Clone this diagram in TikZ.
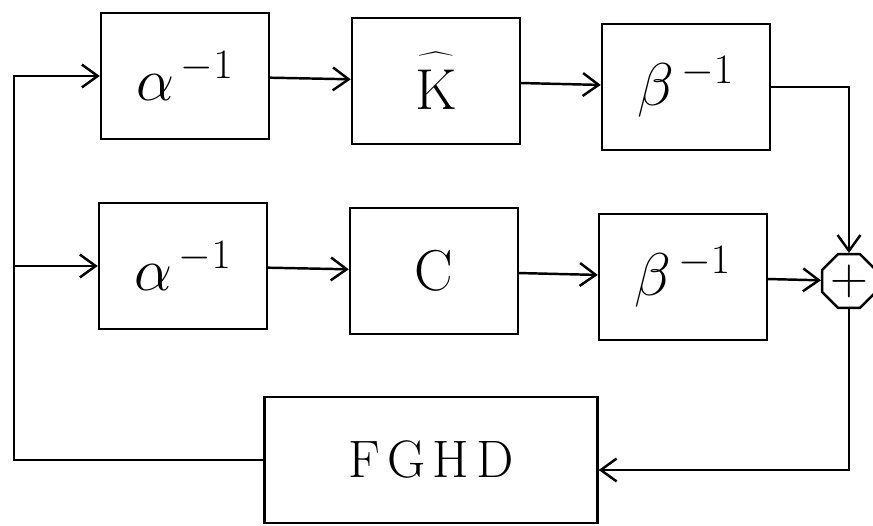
\documentclass[tikz,border=0pt]{standalone}
\usetikzlibrary{arrows.meta,shapes.geometric}
% math only comes in fixed sizes up to 24.88pt, so blow it up
\newcommand{\blowup}[2][1.38]{\scalebox{#1}{#2}}
\begin{document}
\begin{tikzpicture}[x=0.02cm, y=-0.02cm, line width=1.4pt,
        >={Straight Barb[length=9pt, width=13pt]}]
    \useasboundingbox (0,0) rectangle (873,526);
    {
        \tikzset{every node/.style = {draw, minimum width=3.36cm, minimum height=2.52cm, font=\fontsize{24}{28}\selectfont}}
        
        \node (a1) at (185, 76) {\blowup{$\alpha^{\,-1}$}};
        \node (k) at (436, 81) {\blowup[1.32]{$\widehat{\rule{0pt}{0.9em}\mathrm{K}}$}};
        \node (b1) at (686, 87) {\blowup{$\beta^{\,-1}$}};
        \node (a2) at (183, 266) {\blowup{$\alpha^{\,-1}$}};
        \node (c) at (434, 271) {\blowup[1.32]{$\mathrm{C}$}};
        \node (b2) at (683, 277) {\blowup{$\beta^{\,-1}$}};
        \node[minimum width=6.66cm, font=\fontsize{30}{36}\selectfont] (fghd) at (431, 460) {F\kern4pt G\kern4pt H\kern4pt D};
    }
        \node[draw, regular polygon, regular polygon sides=8, minimum size=1.16cm, inner sep=0pt,
              font=\fontsize{24}{24}\selectfont] (sum) at (849, 281) {\blowup[1.2]{$+$}};
        \coordinate (bus) at (14, 266);

        \draw (a1) edge[->] (k);
        \draw (k) edge[->] (b1);
        \draw (a2) edge[->] (c);
        \draw (c) edge[->] (b2);
        \draw (b2) edge[->] (sum);
        \draw[->] (b1.east) -| (sum.north);
        \draw[->] (sum.south) |- ([yshift=-0.2cm]fghd.east);
        % feedback back to both inputs
        \draw[->] (fghd.west) -| (bus |- a1.west) -- (a1.west);
        \draw[->] (bus) -- (a2.west);

    \end{tikzpicture}
\end{document}
